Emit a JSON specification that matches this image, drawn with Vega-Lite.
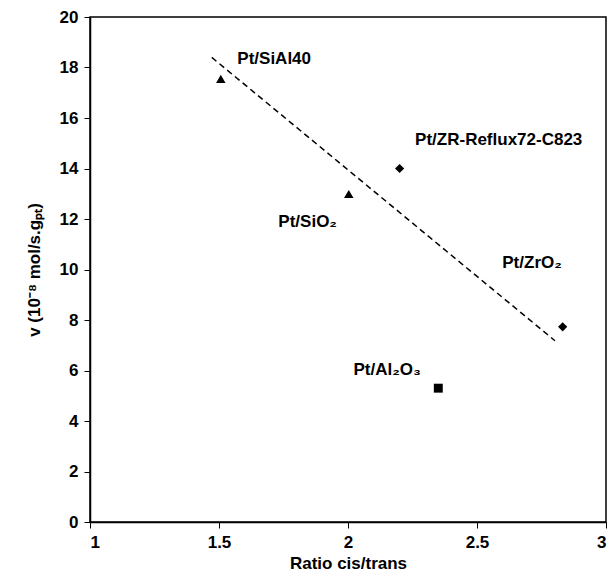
{
  "$schema": "https://vega.github.io/schema/vega-lite/v6.json",
  "width": 516,
  "height": 505,
  "autosize": "none",
  "padding": {"left": 90, "top": 17, "right": 8, "bottom": 55},
  "background": "white",
  "config": {
    "view": {"stroke": "black", "strokeWidth": 1.5},
    "font": "Liberation Sans",
    "axis": {
      "domainColor": "black", "domainWidth": 1.5, "tickColor": "black", "tickSize": 6, "tickWidth": 1,
      "labelFont": "Liberation Sans", "labelFontSize": 17, "labelFontWeight": "bold", "labelColor": "black",
      "titleFont": "Liberation Sans", "titleFontSize": 17, "titleFontWeight": "bold", "titleColor": "black",
      "grid": false
    }
  },
  "datasets": {
    "points": [
      {"ratio": 1.507, "v": 17.55, "family": "Si"},
      {"ratio": 2.003, "v": 12.99, "family": "Si"},
      {"ratio": 2.2, "v": 14.0, "family": "Zr"},
      {"ratio": 2.832, "v": 7.73, "family": "Zr"},
      {"ratio": 2.35, "v": 5.3, "family": "Al"}
    ],
    "trend": [
      {"ratio": 1.472, "v": 18.4},
      {"ratio": 2.802, "v": 7.18}
    ],
    "labels": [
      {"ratio": 1.571, "v": 18.32, "text": "Pt/SiAl40"},
      {"ratio": 2.26, "v": 15.13, "text": "Pt/ZR-Reflux72-C823"},
      {"ratio": 1.73, "v": 11.89, "text": "Pt/SiO₂"},
      {"ratio": 2.598, "v": 10.25, "text": "Pt/ZrO₂"},
      {"ratio": 2.021, "v": 6.02, "text": "Pt/Al₂O₃"}
    ]
  },
  "layer": [
    {
      "data": {"name": "trend"},
      "mark": {"type": "line", "color": "black", "strokeWidth": 1.5, "strokeDash": [6, 4]},
      "encoding": {
        "x": {"field": "ratio", "type": "quantitative", "scale": {"domain": [1, 3], "nice": false},
              "axis": {"values": [1, 1.5, 2, 2.5, 3], "format": "~g", "title": "Ratio cis/trans", "labelPadding": 6, "titlePadding": 5}},
        "y": {"field": "v", "type": "quantitative", "scale": {"domain": [0, 20], "nice": false},
              "axis": {"values": [0, 2, 4, 6, 8, 10, 12, 14, 16, 18, 20], "title": "v (10⁻⁸ mol/s.gₚₜ)", "labelPadding": 6, "titlePadding": 16}}
      }
    },
    {
      "data": {"name": "points"},
      "mark": {"type": "point", "filled": true, "opacity": 1, "color": "black"},
      "encoding": {
        "x": {"field": "ratio", "type": "quantitative"},
        "y": {"field": "v", "type": "quantitative"},
        "shape": {"field": "family", "type": "nominal",
                  "scale": {"domain": ["Si", "Zr", "Al"], "range": ["triangle-up", "diamond", "square"]},
                  "legend": null},
        "size": {"field": "family", "type": "nominal",
                 "scale": {"domain": ["Si", "Zr", "Al"], "range": [90, 80, 70]},
                 "legend": null}
      }
    },
    {
      "data": {"name": "labels"},
      "mark": {"type": "text", "align": "left", "baseline": "middle", "fontSize": 17, "fontWeight": "bold", "font": "Liberation Sans", "color": "black"},
      "encoding": {
        "x": {"field": "ratio", "type": "quantitative"},
        "y": {"field": "v", "type": "quantitative"},
        "text": {"field": "text"}
      }
    }
  ]
}
